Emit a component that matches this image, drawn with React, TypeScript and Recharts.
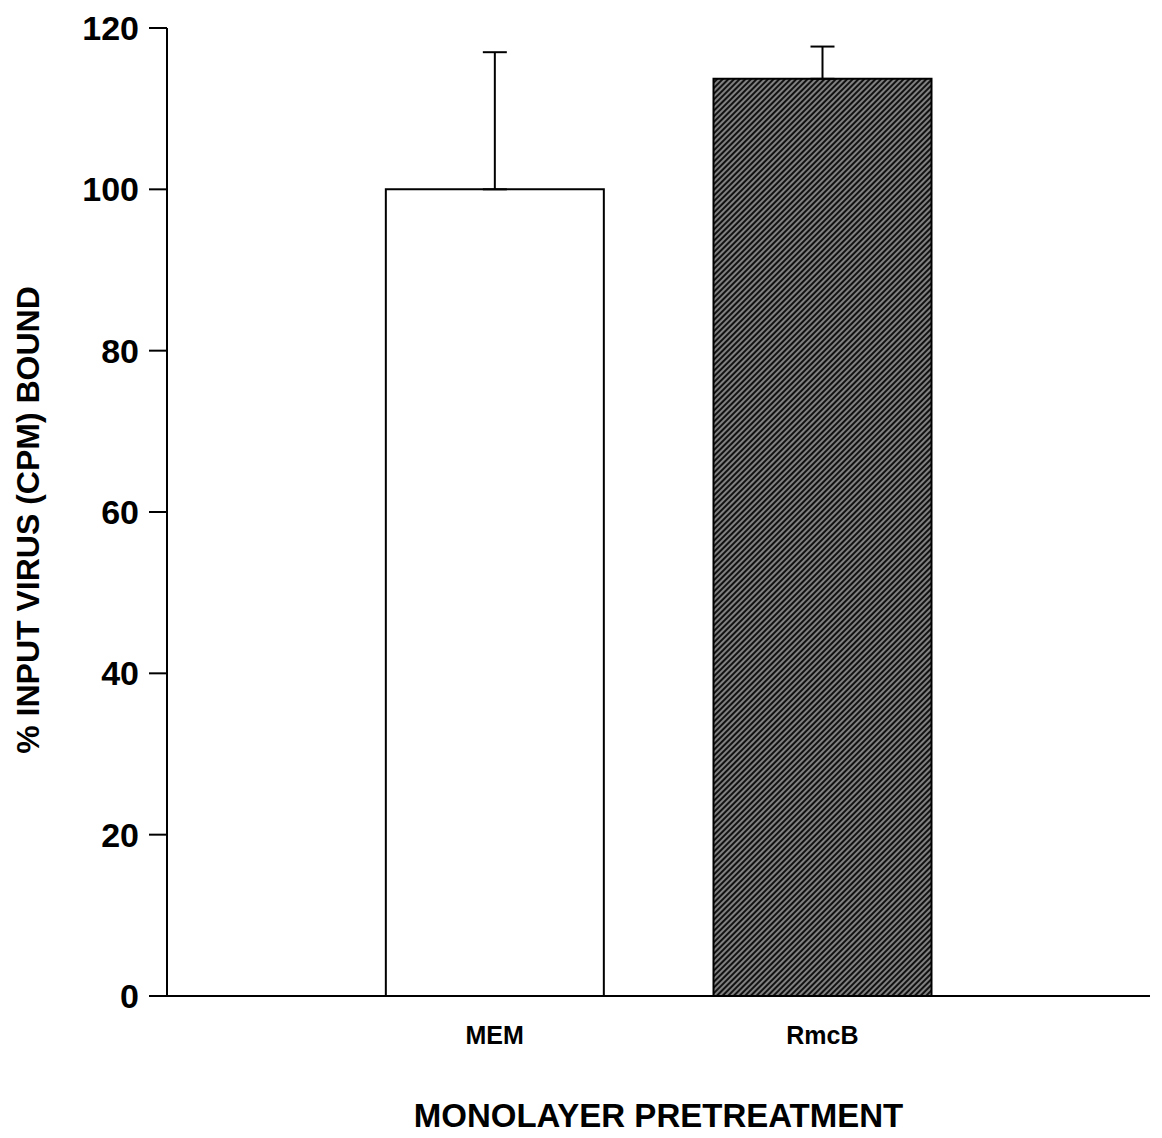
import React from "react";
import { BarChart, Bar, XAxis, YAxis, ErrorBar, Cell, Label } from "recharts";

// categories and values
const categories = ["MEM", "RmcB"];
const positions = [1, 2];
const boundPct = [100, 113.7];
const sdUpper = [17, 4];
const yTicks = [0, 20, 40, 60, 80, 100, 120];

const data = categories.map((name, i) => ({
  name,
  pos: positions[i],
  value: boundPct[i],
  err: [0, sdUpper[i]],
}));

const FONT = "'Liberation Sans', Arial, Helvetica, sans-serif";

const CategoryTick = (props: any) => {
  const { x, y, payload } = props;
  return (
    <text
      x={x}
      y={y}
      dy={40}
      textAnchor="middle"
      fontFamily={FONT}
      fontWeight="bold"
      fontSize={25}
      fill="#000"
    >
      {categories[payload.value - 1]}
    </text>
  );
};

export default function App() {
  return (
    <div style={{ position: "absolute", left: 0, top: 0, background: "#fff" }}>
      {/* hatch fill for the RmcB bar */}
      <svg width={0} height={0} style={{ position: "absolute" }}>
        <defs>
          <pattern
            id="hatch"
            width={4}
            height={4}
            patternUnits="userSpaceOnUse"
            patternTransform="rotate(45)"
          >
            <rect width={4} height={4} fill="#111" />
            <line x1={1} y1={0} x2={1} y2={4} stroke="#ddd" strokeWidth={1.1} />
          </pattern>
        </defs>
      </svg>
      <BarChart
        width={1162}
        height={1138}
        data={data}
        margin={{ top: 28, right: 12, bottom: 0, left: 0 }}
      >
        <XAxis
          dataKey="pos"
          type="number"
          domain={[0, 3]}
          ticks={[1, 2]}
          tickLine={false}
          axisLine={{ stroke: "#000", strokeWidth: 2 }}
          tick={<CategoryTick />}
          height={142}
        >
          <Label
            content={(p: any) => {
              const vb = p.viewBox;
              return (
                <text
                  x={vb.x + vb.width / 2}
                  y={1127}
                  textAnchor="middle"
                  fontFamily={FONT}
                  fontWeight="bold"
                  fontSize={33}
                  fill="#000"
                >
                  MONOLAYER PRETREATMENT
                </text>
              );
            }}
          />
        </XAxis>
        <YAxis
          type="number"
          domain={[0, 120]}
          ticks={yTicks}
          width={167}
          tickSize={18}
          tickMargin={10}
          axisLine={{ stroke: "#000", strokeWidth: 2 }}
          tickLine={{ stroke: "#000", strokeWidth: 2 }}
          tick={{ fill: "#000", fontSize: 34, fontWeight: "bold", fontFamily: FONT }}
        >
          <Label
            content={() => {
              const cx = 28;
              const cy = 520;
              return (
                <text
                  x={cx}
                  y={cy}
                  transform={`rotate(-90 ${cx} ${cy})`}
                  textAnchor="middle"
                  dominantBaseline="central"
                  fontFamily={FONT}
                  fontWeight="bold"
                  fontSize={32}
                  fill="#000"
                >
                  % INPUT VIRUS (CPM) BOUND
                </text>
              );
            }}
          />
        </YAxis>
        <Bar dataKey="value" barSize={218} stroke="#000" strokeWidth={2} isAnimationActive={false}>
          <Cell fill="#fff" />
          <Cell fill="url(#hatch)" />
          <ErrorBar dataKey="err" direction="y" width={12} stroke="#000" strokeWidth={2} />
        </Bar>
      </BarChart>
    </div>
  );
}
